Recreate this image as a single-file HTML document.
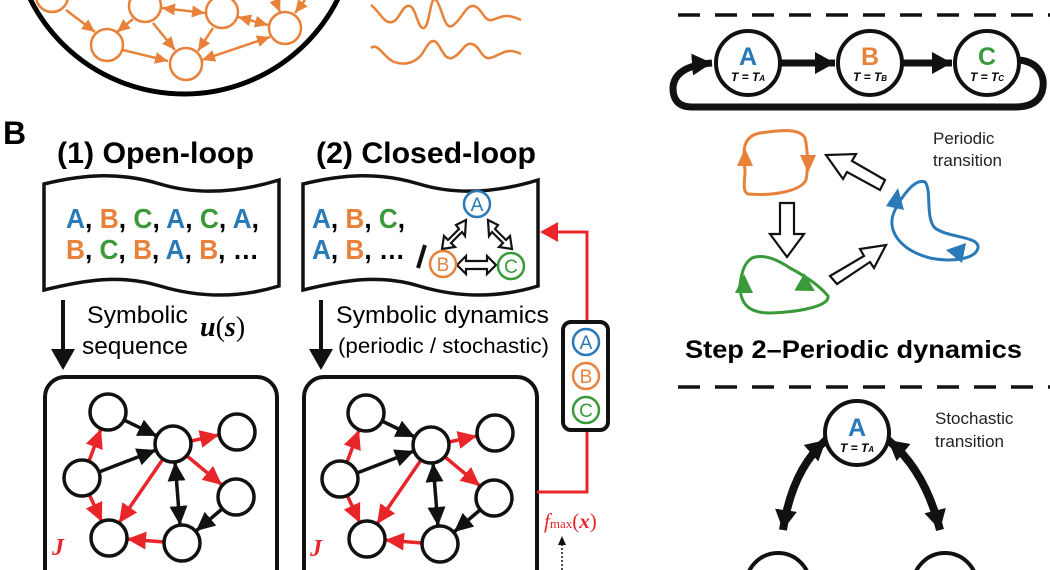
<!DOCTYPE html>
<html><head><meta charset="utf-8"><style>
html,body{margin:0;padding:0;background:#fff;width:1050px;height:570px;overflow:hidden;}
svg{display:block;font-family:"Liberation Sans",sans-serif;}
</style></head><body>
<svg width="1050" height="570" viewBox="0 0 1050 570" xmlns="http://www.w3.org/2000/svg">
<defs>
<marker id="ro" markerUnits="userSpaceOnUse" markerWidth="16" markerHeight="14" refX="13" refY="6" orient="auto-start-reverse"><path d="M0,0 L13,6 L0,12 Z" fill="#e8823a"/></marker>
<marker id="rr" markerUnits="userSpaceOnUse" markerWidth="22" markerHeight="20" refX="19" refY="9" orient="auto-start-reverse"><path d="M0,0 L19,9 L0,18 Z" fill="#e8262a"/></marker>
<marker id="rb" markerUnits="userSpaceOnUse" markerWidth="22" markerHeight="20" refX="19" refY="9" orient="auto-start-reverse"><path d="M0,0 L19,9 L0,18 Z" fill="#111"/></marker>
<marker id="bb" markerUnits="userSpaceOnUse" markerWidth="24" markerHeight="24" refX="20" refY="11" orient="auto-start-reverse"><path d="M0,0 L20,11 L0,22 Z" fill="#111"/></marker>
<g id="net">
 <g stroke-width="3.5" fill="none">
  <line x1="89" y1="461" x2="101" y2="429" stroke="#e8262a" marker-end="url(#rr)"/>
  <line x1="89" y1="494" x2="102" y2="522" stroke="#e8262a" marker-end="url(#rr)"/>
  <line x1="124" y1="420" x2="157" y2="436" stroke="#111" marker-end="url(#rb)"/>
  <line x1="99" y1="472" x2="156" y2="450" stroke="#111" marker-end="url(#rb)"/>
  <line x1="191" y1="441" x2="219" y2="435" stroke="#e8262a" marker-end="url(#rr)"/>
  <line x1="187" y1="456" x2="222" y2="485" stroke="#e8262a" marker-end="url(#rr)"/>
  <line x1="163" y1="459" x2="119" y2="523" stroke="#e8262a" marker-end="url(#rr)"/>
  <line x1="175" y1="462" x2="180" y2="525" stroke="#111" marker-start="url(#rb)" marker-end="url(#rb)"/>
  <line x1="222" y1="509" x2="196" y2="531" stroke="#111" marker-end="url(#rb)"/>
  <line x1="164" y1="542" x2="127" y2="539" stroke="#e8262a" marker-end="url(#rr)"/>
 </g>
 <g fill="#fff" stroke="#111" stroke-width="3.5">
  <circle cx="108" cy="412" r="18"/><circle cx="173" cy="444" r="18"/><circle cx="237" cy="432" r="18"/>
  <circle cx="82" cy="478" r="18"/><circle cx="236" cy="497" r="18"/><circle cx="109" cy="538" r="18"/><circle cx="182" cy="543" r="18"/>
 </g>
 <text x="52" y="555" font-family="Liberation Serif,serif" font-style="italic" font-weight="bold" font-size="24" fill="#e8262a">J</text>
</g>
</defs>

<circle cx="184" cy="-78" r="172" fill="none" stroke="#000" stroke-width="5"/>
<g stroke="#e8823a" stroke-width="2.5" fill="none">
 <line x1="66" y1="10" x2="95" y2="32" marker-end="url(#ro)"/>
 <line x1="133" y1="19" x2="117" y2="32" marker-end="url(#ro)"/>
 <line x1="123" y1="50" x2="168" y2="61" marker-end="url(#ro)"/>
 <line x1="153" y1="23" x2="175" y2="50" marker-end="url(#ro)"/>
 <line x1="162" y1="8" x2="205" y2="13" marker-start="url(#ro)" marker-end="url(#ro)"/>
 <line x1="213" y1="28" x2="198" y2="51" marker-end="url(#ro)"/>
 <line x1="238" y1="17" x2="268" y2="25" marker-start="url(#ro)" marker-end="url(#ro)"/>
 <line x1="202" y1="60" x2="270" y2="37" marker-start="url(#ro)" marker-end="url(#ro)"/>
 <line x1="275" y1="0" x2="280" y2="12" marker-end="url(#ro)"/>
 <line x1="305" y1="0" x2="295" y2="13" marker-end="url(#ro)"/>
</g>
<g fill="#fff" stroke="#e8823a" stroke-width="2.5">
 <circle cx="52" cy="-4" r="16"/><circle cx="145" cy="6" r="16"/><circle cx="222" cy="12" r="16"/>
 <circle cx="285" cy="28" r="16"/><circle cx="107" cy="45" r="16"/><circle cx="186" cy="64" r="16"/>
</g>
<g stroke="#e8823a" stroke-width="2.5" fill="none">
 <path d="M371,5 C380,12 384,24 392,22 C400,20 402,4 410,6 C416,8 418,30 424,28 C430,26 430,-6 436,0 C442,6 444,30 452,26 C462,20 466,4 474,6 C482,8 484,22 492,20 C500,18 504,12 521,20"/>
 <path d="M371,48 C378,42 384,58 394,62 C406,66 416,62 422,54 C426,48 430,38 436,42 C442,48 444,60 452,58 C462,54 464,42 472,44 C480,46 482,60 490,58 C500,56 506,46 521,54"/>
</g>

<text x="3" y="144" font-size="32" font-weight="bold">B</text>
<text x="57" y="163" font-size="30" font-weight="bold" textLength="197" lengthAdjust="spacingAndGlyphs">(1) Open-loop</text>
<text x="316" y="163" font-size="30" font-weight="bold" textLength="220" lengthAdjust="spacingAndGlyphs">(2) Closed-loop</text>

<path d="M44,184 C85,174 120,172 160,184 C200,196 240,192 279,180 L279,286 C240,298 200,298 160,286 C120,274 85,280 44,290 Z" fill="#fff" stroke="#111" stroke-width="3.5"/>
<path d="M303,184 C344,174 379,172 419,184 C459,196 499,192 538,180 L538,286 C499,298 459,298 419,286 C379,274 344,280 303,290 Z" fill="#fff" stroke="#111" stroke-width="3.5"/>

<g font-size="28" font-weight="bold">
<text x="66" y="228" textLength="193" lengthAdjust="spacingAndGlyphs"><tspan fill="#2a7ab8">A</tspan>, <tspan fill="#e8823a">B</tspan>, <tspan fill="#3a9a3a">C</tspan>, <tspan fill="#2a7ab8">A</tspan>, <tspan fill="#3a9a3a">C</tspan>, <tspan fill="#2a7ab8">A</tspan>,</text>
<text x="66" y="259" textLength="193" lengthAdjust="spacingAndGlyphs"><tspan fill="#e8823a">B</tspan>, <tspan fill="#3a9a3a">C</tspan>, <tspan fill="#e8823a">B</tspan>, <tspan fill="#2a7ab8">A</tspan>, <tspan fill="#e8823a">B</tspan>, …</text>
<text x="312" y="228" textLength="93" lengthAdjust="spacingAndGlyphs"><tspan fill="#2a7ab8">A</tspan>, <tspan fill="#e8823a">B</tspan>, <tspan fill="#3a9a3a">C</tspan>,</text>
<text x="312" y="259" textLength="93" lengthAdjust="spacingAndGlyphs"><tspan fill="#2a7ab8">A</tspan>, <tspan fill="#e8823a">B</tspan>, …</text>
</g>
<line x1="425" y1="245" x2="418" y2="268" stroke="#111" stroke-width="4"/>
<g fill="#fff" stroke="#111" stroke-width="2.2">
 <path d="M466,220 L456,225 L459,229 L448,240 L444,236 L442,249 L455,247 L451,243 L462,232 L465,236 Z"/>
 <path d="M488,220 L498,225 L495,229 L506,240 L510,236 L512,249 L499,247 L503,243 L492,232 L489,236 Z"/>
 <path d="M457,265 L466,256 L466,261 L487,261 L487,256 L496,265 L487,274 L487,269 L466,269 L466,274 Z"/>
</g>
<g stroke-width="2.5" fill="#fff" font-size="19" text-anchor="middle">
 <circle cx="477" cy="204" r="13" stroke="#2a7ab8"/><text x="477" y="211" fill="#2a7ab8">A</text>
 <circle cx="443" cy="264" r="13" stroke="#e8823a"/><text x="443" y="271" fill="#e8823a">B</text>
 <circle cx="511" cy="266" r="13" stroke="#3a9a3a"/><text x="511" y="273" fill="#3a9a3a">C</text>
</g>

<line x1="63" y1="300" x2="63" y2="352" stroke="#111" stroke-width="4"/>
<path d="M51,349 L75,349 L63,370 Z" fill="#111"/>
<line x1="321" y1="300" x2="321" y2="352" stroke="#111" stroke-width="4"/>
<path d="M309,349 L333,349 L321,370 Z" fill="#111"/>
<g font-size="24">
<text x="87" y="323" textLength="101" lengthAdjust="spacingAndGlyphs">Symbolic</text>
<text x="82" y="354" textLength="106" lengthAdjust="spacingAndGlyphs">sequence</text>
<text x="336" y="323" textLength="213" lengthAdjust="spacingAndGlyphs">Symbolic dynamics</text>
<text x="338" y="353" font-size="21" textLength="211" lengthAdjust="spacingAndGlyphs">(periodic / stochastic)</text>
</g>
<text x="200" y="336" font-family="Liberation Serif,serif" font-size="28"><tspan font-style="italic" font-weight="bold">u</tspan>(<tspan font-style="italic" font-weight="bold">s</tspan>)</text>

<rect x="45" y="377" width="232" height="220" rx="20" fill="#fff" stroke="#111" stroke-width="4"/>
<rect x="304" y="377" width="233" height="220" rx="20" fill="#fff" stroke="#111" stroke-width="4"/>
<use href="#net"/>
<use href="#net" transform="translate(258,1)"/>
<text x="55" y="590" font-size="26" fill="#aaa">Reservoir (RNN)</text>
<text x="314" y="590" font-size="26" fill="#aaa">Reservoir (RNN)</text>

<path d="M537,492 L587,492 L587,232 L556,232" fill="none" stroke="#e8262a" stroke-width="3"/>
<path d="M558,222 L540,232 L558,242 Z" fill="#e8262a"/>
<rect x="563" y="322" width="45" height="108" rx="8" fill="#fff" stroke="#111" stroke-width="4"/>
<g stroke-width="2.5" fill="#fff" font-size="19" text-anchor="middle">
 <circle cx="586" cy="342" r="13" stroke="#2a7ab8"/><text x="586" y="349" fill="#2a7ab8">A</text>
 <circle cx="586" cy="376" r="13" stroke="#e8823a"/><text x="586" y="383" fill="#e8823a">B</text>
 <circle cx="586" cy="410" r="13" stroke="#3a9a3a"/><text x="586" y="417" fill="#3a9a3a">C</text>
</g>
<text x="544" y="528" font-family="Liberation Serif,serif" font-size="21" fill="#e8262a"><tspan font-style="italic">f</tspan><tspan font-size="13">max</tspan>(<tspan font-style="italic" font-weight="bold">x</tspan>)</text>
<line x1="562" y1="570" x2="562" y2="544" stroke="#111" stroke-width="1.5" stroke-dasharray="2,2"/>
<path d="M558,545 L562,536 L566,545 Z" fill="#111"/>

<line x1="678" y1="15" x2="1050" y2="15" stroke="#111" stroke-width="3.5" stroke-dasharray="22,15"/>
<line x1="678" y1="387" x2="1050" y2="387" stroke="#111" stroke-width="3.5" stroke-dasharray="22,15"/>

<g stroke="#111" stroke-width="7" fill="none">
 <line x1="781" y1="63" x2="835" y2="63" marker-end="url(#bb)"/>
 <line x1="903" y1="63" x2="952" y2="63" marker-end="url(#bb)"/>
 <path d="M1019,60 C1040,62 1046,78 1042,92 Q1037,107 1015,107 L692,107 Q673,107 673,88 Q674,66 712,63" marker-end="url(#bb)"/>
</g>
<g fill="#fff" stroke="#111" stroke-width="4">
 <circle cx="748" cy="63" r="32"/><circle cx="870" cy="63" r="32"/><circle cx="987" cy="63" r="32"/>
</g>
<g font-weight="bold" text-anchor="middle">
 <text x="748" y="65" font-size="25" fill="#2a7ab8">A</text>
 <text x="870" y="65" font-size="25" fill="#e8823a">B</text>
 <text x="987" y="65" font-size="25" fill="#3a9a3a">C</text>
 <text x="748" y="81" font-size="12" font-style="italic">T = T<tspan font-size="8">A</tspan></text>
 <text x="870" y="81" font-size="12" font-style="italic">T = T<tspan font-size="8">B</tspan></text>
 <text x="987" y="81" font-size="12" font-style="italic">T = T<tspan font-size="8">C</tspan></text>
</g>

<path d="M745,170 C742,148 744,136 760,133 C780,130 800,128 805,138 C808,150 808,170 806,180 C800,192 770,196 748,194 C742,192 745,180 745,170 Z" fill="none" stroke="#e8823a" stroke-width="3"/>
<path d="M737,166 L745,148 L753,166 Z" fill="#e8823a"/>
<path d="M800,155 L808,173 L816,155 Z" fill="#e8823a"/>
<path d="M752,258 C762,254 775,258 790,268 C805,276 820,286 828,296 C830,306 800,312 770,313 C745,313 740,300 740,285 C742,268 746,262 752,258 Z" fill="none" stroke="#3a9a3a" stroke-width="3"/>
<path d="M735,293 L744,274 L753,293 Z" fill="#3a9a3a"/>
<path d="M798,277 L816,287 L798,297 Z" fill="#3a9a3a" transform="rotate(30 808 287)"/>
<path d="M895,210 C902,196 915,178 925,182 C932,190 925,218 935,228 C948,238 980,236 978,248 C975,260 950,262 930,258 C900,250 885,230 895,210 Z" fill="none" stroke="#2a7ab8" stroke-width="3"/>
<path d="M886,206 L898,188 L904,210 Z" fill="#2a7ab8"/>
<path d="M946,250 L966,243 L962,263 Z" fill="#2a7ab8"/>
<g fill="#fff" stroke="#111" stroke-width="2.2">
 <path d="M780,203 L794,203 L794,234 L804,234 L787,257 L770,234 L780,234 Z"/>
 <path d="M830,276 L864,256 L860,249 L886,245 L874,268 L870,262 L837,284 Z"/>
 <path d="M885,180 L852,161 L856,154 L826,155 L843,179 L847,172 L880,190 Z"/>
</g>
<g font-size="17" fill="#222">
 <text x="933" y="144">Periodic</text>
 <text x="933" y="166">transition</text>
 <text x="935" y="424">Stochastic</text>
 <text x="935" y="447">transition</text>
</g>
<text x="685" y="358" font-size="25" font-weight="bold" textLength="337" lengthAdjust="spacingAndGlyphs">Step 2–Periodic dynamics</text>

<g stroke="#111" stroke-width="8" fill="none">
 <path d="M826,440 Q792,470 783,530" marker-start="url(#bb)" marker-end="url(#bb)"/>
 <path d="M888,440 Q925,470 940,530" marker-start="url(#bb)" marker-end="url(#bb)"/>
</g>
<g fill="#fff" stroke="#111" stroke-width="4">
 <circle cx="857" cy="433" r="32"/>
 <circle cx="778" cy="585" r="32"/><circle cx="945" cy="585" r="32"/>
</g>
<text x="857" y="436" font-size="25" font-weight="bold" fill="#2a7ab8" text-anchor="middle">A</text>
<text x="857" y="452" font-size="12" font-weight="bold" font-style="italic" text-anchor="middle">T = T<tspan font-size="8">A</tspan></text>
</svg>
</body></html>
